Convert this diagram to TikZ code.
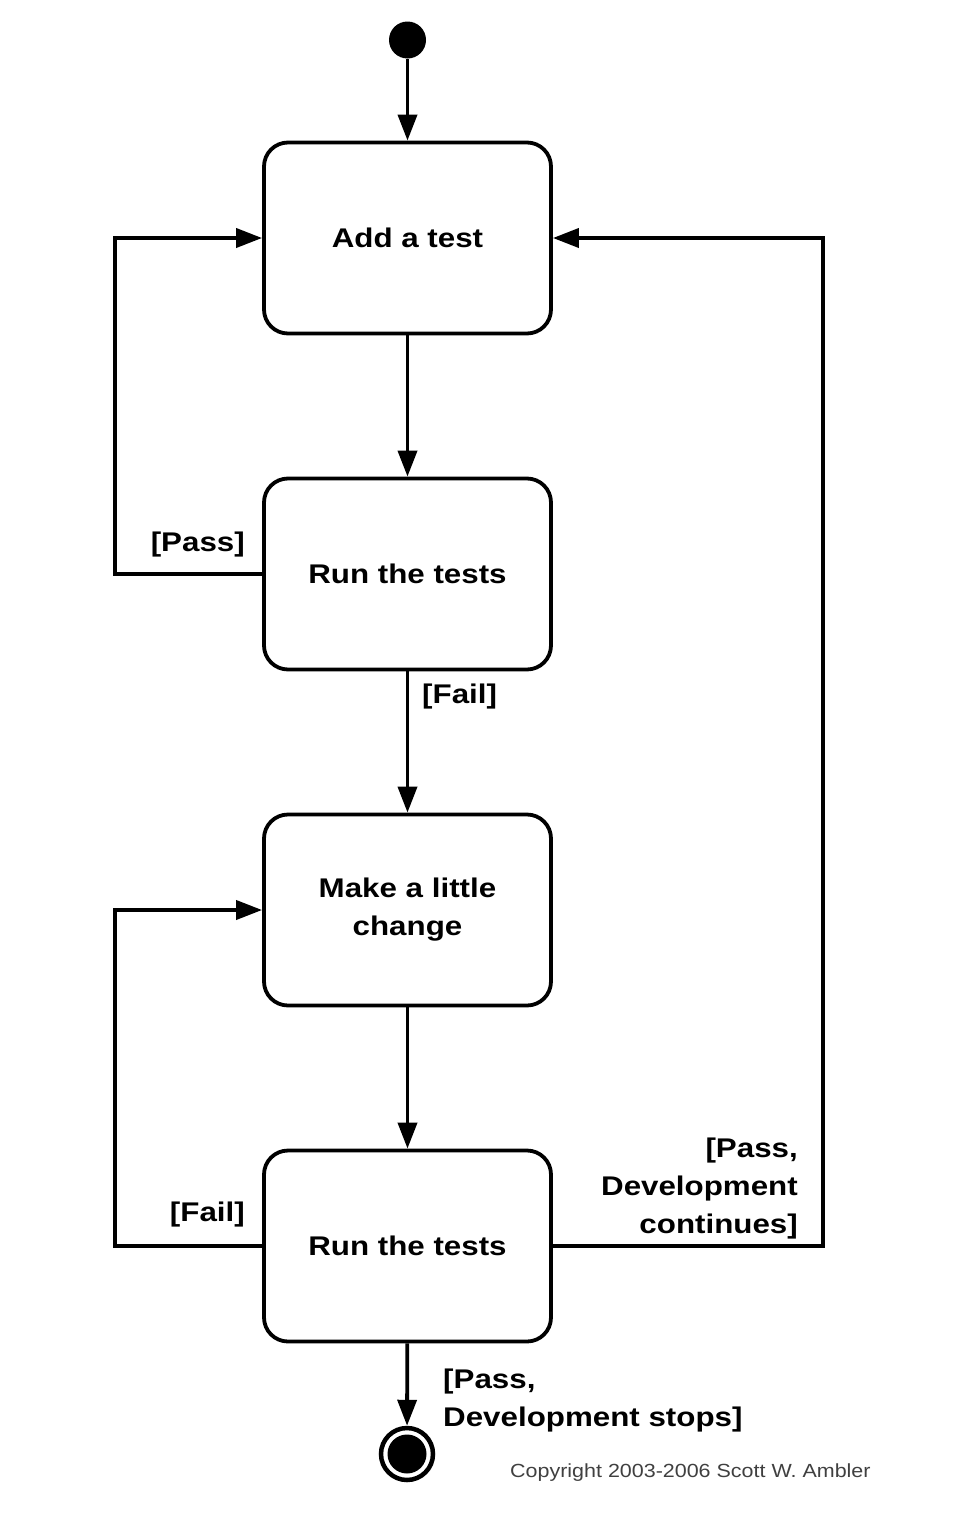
\documentclass[tikz,border=0pt]{standalone}
\usepackage{fontspec}
\setmainfont{Liberation Sans}[FakeStretch=1.16]
\newfontfamily\copyfont{Liberation Sans}[FakeStretch=1.13]
\usetikzlibrary{arrows.meta}
\begin{document}
\begin{tikzpicture}[x=1pt,y=-1pt,
  statebox/.style={draw, line width=3.8pt, rounded corners=24pt,
    minimum width=287pt, minimum height=191pt, align=center,
    font=\bfseries\fontsize{27}{38}\selectfont},
  arr/.style={line width=3.8pt, -{Triangle[length=26pt,width=19pt]}},
  guard/.style={inner sep=0pt, font=\bfseries\fontsize{27}{38}\selectfont}]
\useasboundingbox (0,0) rectangle (956,1518);
\fill[white] (0,0) rectangle (956,1518);
\node[circle, fill=black, minimum size=37pt, inner sep=0pt] (start) at (407.5,40) {};
\node[statebox] (b1) at (407.5,238) {Add a test};
\node[statebox] (b2) at (407.5,574) {Run the tests};
\node[statebox] (b3) at (407.5,910) {Make a little\\change};
\node[statebox] (b4) at (407.5,1246) {Run the tests};
\node[circle, draw, line width=4.5pt, minimum size=52pt, inner sep=0pt] (end) at (407,1454) {};
\fill (end.center) circle (19.5pt);
\draw[arr] (start) -- (b1);
\draw[arr] (b1) -- (b2);
\draw[arr] (b2) -- (b3);
\draw[arr] (b3) -- (b4);
\draw[arr] (b4) -- (end);
\draw[arr] (b2.west) -- ++(-147,0) |- (b1.west);
\draw[arr] (b4.west) -- ++(-147,0) |- (b3.west);
\draw[arr] (b4.east) -- ++(270,0) |- (b1.east);
\node[guard, anchor=base east] (lpass) at (245,551) {[Pass]};
\node[guard, anchor=base west] (lfail1) at (422,703) {[Fail]};
\node[guard, anchor=base east] (lfail2) at (245,1221) {[Fail]};
\node[guard, anchor=north east, align=right] (lcont) at (798,1138) {[Pass,\\Development\\continues]};
\node[guard, anchor=north west, align=left] (lstop) at (443,1369) {[Pass,\\Development stops]};
\node[inner sep=0pt, anchor=base west, text=black!75, font=\copyfont\fontsize{19}{23}\selectfont] (copy) at (510,1477) {Copyright 2003-2006 Scott W. Ambler};
\end{tikzpicture}
\end{document}
